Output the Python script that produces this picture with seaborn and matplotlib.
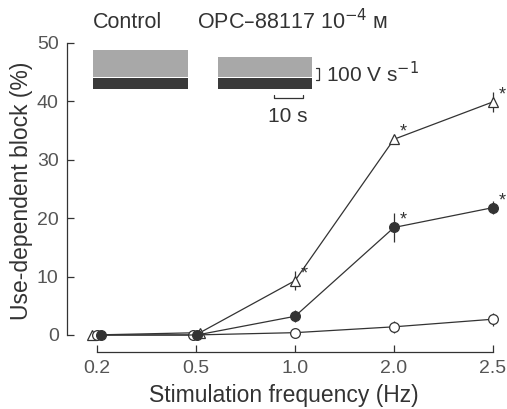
import matplotlib
matplotlib.use("Agg")
import matplotlib.pyplot as plt
from matplotlib.patches import Rectangle
import seaborn as sns
import pandas as pd

# ─── Data ────────────────────────────────────────────────────────────────────
freq_labels = ["0.2", "0.5", "1.0", "2.0", "2.5"]

control_mean = [0.0, 0.0, 0.4, 1.4, 2.7]
control_err  = [0.0, 0.0, 0.3, 1.0, 1.1]

opc_mean = [0.0, 0.0, 3.2, 18.4, 21.8]
opc_err  = [0.0, 0.0, 1.0, 2.4, 1.1]

tri_mean = [0.0, 0.4, 9.3, 33.5, 39.9]
tri_err  = [0.0, 0.0, 1.6, 0.8, 1.7]

tri_sig = [False, False, True, True, True]
opc_sig = [False, False, False, True, True]

# small horizontal nudges so overlapping points stay visible (category units)
nudge = {
    "control": [0.0, -0.03, 0.0, 0.0, 0.0],
    "opc":     [0.04, 0.01, 0.0, 0.0, 0.0],
    "tri":     [-0.05, 0.04, 0.0, 0.0, 0.0],
}

INK = "#333333"
W, H = 507, 409

sns.set_theme(style="ticks")
plt.rcParams["font.family"] = ["Liberation Sans", "DejaVu Sans"]

fig = plt.figure(figsize=(W / 100, H / 100), dpi=100)
ax = fig.add_axes([67 / W, 1 - 352 / H, 433 / W, 322 / H])

series = [
    ("tri", tri_mean, tri_err, dict(marker="^", markersize=7, markerfacecolor="white")),
    ("control", control_mean, control_err, dict(marker="o", markersize=7, markerfacecolor="white")),
    ("opc", opc_mean, opc_err, dict(marker="o", markersize=7, markerfacecolor=INK)),
]

for name, mean, err, style in series:
    df = pd.DataFrame({
        "x": [i + d for i, d in enumerate(nudge[name])],
        "y": mean,
        "e": err,
    })
    ax.errorbar(df["x"], df["y"], yerr=df["e"], fmt="none", ecolor=INK,
                elinewidth=0.9, capsize=0, zorder=2)
    sns.lineplot(data=df, x="x", y="y", ax=ax, color=INK, linewidth=0.9,
                 markeredgecolor=INK, markeredgewidth=0.9, zorder=3, **style)

# significance asterisks
for i, s in enumerate(tri_sig):
    if s:
        ax.annotate("*", (i, tri_mean[i]), xytext=(4, -1), textcoords="offset points",
                    fontsize=13, color=INK, va="bottom", ha="left")
for i, s in enumerate(opc_sig):
    if s:
        ax.annotate("*", (i, opc_mean[i]), xytext=(4, -1), textcoords="offset points",
                    fontsize=13, color=INK, va="bottom", ha="left")

# ─── Axes styling ────────────────────────────────────────────────────────────
ax.set_xlim(-0.303, 4.071)
ax.set_ylim(-2.91, 52.2)
ax.set_xticks(range(len(freq_labels)))
ax.set_xticklabels(freq_labels)
ax.set_yticks([0, 10, 20, 30, 40, 50])
ax.spines["top"].set_visible(False)
ax.spines["right"].set_visible(False)
ax.spines["left"].set_bounds(0, 50)
ax.spines["bottom"].set_bounds(0, 4)
for sp in ("left", "bottom"):
    ax.spines[sp].set_color(INK)
    ax.spines[sp].set_linewidth(0.9)
ax.tick_params(direction="in", length=5, width=0.9, colors=INK,
               labelsize=14, labelcolor="#555555", pad=6)
ax.set_xlabel("Stimulation frequency (Hz)", fontsize=16.5, color=INK, labelpad=5)
ax.set_ylabel("Use-dependent block (%)", fontsize=16.5, color=INK, labelpad=3)
ax.set_facecolor("white")

# ─── Inset: traces and scale bars (pixel coords overlay) ─────────────────────
ov = fig.add_axes([0, 0, 1, 1], facecolor="none")
ov.set_xlim(0, W)
ov.set_ylim(H, 0)
ov.axis("off")

for x0, x1, top in [(93, 188, 50), (218, 312, 57)]:
    ov.add_patch(Rectangle((x0, top), x1 - x0, 77 - top, color="#a8a8a8", lw=0))
    ov.add_patch(Rectangle((x0, 78), x1 - x0, 11, color="#3a3a3a", lw=0))

ov.text(93, 22, "Control", fontsize=15.5, color=INK, va="center", ha="left")
ov.text(197, 22, "OPC–88117 10$^{-4}$ ᴍ", fontsize=15.5, color=INK,
        va="center", ha="left")

# 100 V/s bracket
ov.plot([316, 319, 319, 316], [68, 68, 80, 80], color=INK, lw=0.9)
ov.text(326, 74, "100 V s$^{-1}$", fontsize=15, color=INK, va="center", ha="left")
# 10 s bar
ov.plot([274, 274, 303, 303], [95, 98, 98, 95], color=INK, lw=0.9)
ov.text(288, 116, "10 s", fontsize=15, color=INK, va="center", ha="center")

fig.savefig("out.png", dpi=100, facecolor="white")
